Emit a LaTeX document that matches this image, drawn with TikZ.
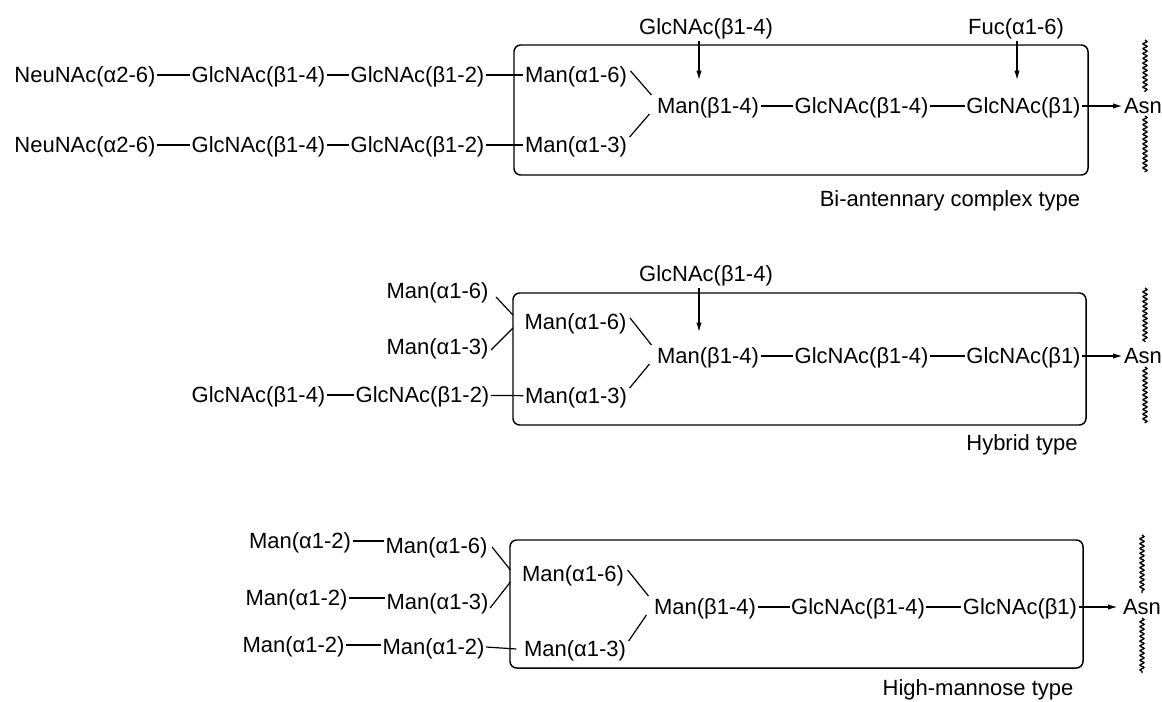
\documentclass[tikz,border=0pt]{standalone}
\usepackage{fontspec}
\setmainfont{Liberation Sans}
\usetikzlibrary{arrows.meta,calc,decorations.pathmorphing}
\begin{document}
\begin{tikzpicture}[x=0.75pt,y=-0.75pt,
  sug/.style={font=\fontsize{16.5}{19}\selectfont, inner xsep=1pt, inner ysep=0pt, text height=12.5pt, text depth=0.7pt},
  typelab/.style={font=\fontsize{16.5}{19}\selectfont, inner sep=0pt},
  bond/.style={line width=0.9pt},
  arr/.style={line width=0.9pt,-{Latex[length=7pt,width=4pt]}},
  frame/.style={line width=1.1pt, rounded corners=5pt},
  wave/.style={line width=1pt, decorate, decoration={snake, segment length=3.6pt, amplitude=1.5pt}}]
\useasboundingbox (0,0) rectangle (1162,701);

% ================= Panel 1: bi-antennary complex type
\draw[frame] (514,45) rectangle (1088,175);
\node[sug] (n1a) at (85,75) {NeuNAc(α2-6)};
\node[sug] (g1a) at (258.5,75) {GlcNAc(β1-4)};
\node[sug] (g2a) at (417.5,75) {GlcNAc(β1-2)};
\node[sug] (n1b) at (85,145) {NeuNAc(α2-6)};
\node[sug] (g1b) at (258.5,145) {GlcNAc(β1-4)};
\node[sug] (g2b) at (417.5,145) {GlcNAc(β1-2)};
\node[sug] (m6) at (576,75) {Man(α1-6)};
\node[sug] (m3) at (576,145) {Man(α1-3)};
\node[sug] (mb) at (708,106) {Man(β1-4)};
\node[sug] (gc) at (861.5,106) {GlcNAc(β1-4)};
\node[sug] (gb) at (1023.5,106) {GlcNAc(β1)};
\node[sug] (asn) at (1143,106) {Asn};
\node[sug] (lab1) at (706,27) {GlcNAc(β1-4)};
\node[sug] (lab2) at (1016,27) {Fuc(α1-6)};
\coordinate (t1) at (699,80);
\coordinate (t2) at (1017,80);
\draw[bond] (n1a) -- (g1a);
\draw[bond] (g1a) -- (g2a);
\draw[bond] (g2a) -- (m6);
\draw[bond] (n1b) -- (g1b);
\draw[bond] (g1b) -- (g2b);
\draw[bond] (g2b) -- (m3);
\draw[bond] ($(m6.east)+(2,-4)$) -- ($(mb.west)+(-4,-11)$);
\draw[bond] ($(mb.west)+(-6,8)$) -- ($(m3.east)+(1,-8)$);
\draw[bond] (mb) -- (gc);
\draw[bond] (gc) -- (gb);
\draw[arr] (gb) -- (asn);
\draw[arr, shorten <=4pt] (lab1.south -| t1) -- (t1);
\draw[arr, shorten <=4pt] (lab2.south -| t2) -- (t2);
\draw[wave] (1145,40) -- (1145,92);
\draw[wave] (1145,116) -- (1145,172);
\node[typelab] (ty1) at (950,201) {Bi-antennary complex type};

% ================= Panel 2: hybrid type
\draw[frame] (513,293) rectangle (1086,425);
\node[sug] (ho6) at (437.5,291) {Man(α1-6)};
\node[sug] (ho3) at (437.5,347) {Man(α1-3)};
\node[sug] (hg1) at (258.5,395) {GlcNAc(β1-4)};
\node[sug] (hg2) at (422.5,395) {GlcNAc(β1-2)};
\node[sug] (hm6) at (575.5,322) {Man(α1-6)};
\node[sug] (hm3) at (576,396) {Man(α1-3)};
\node[sug] (hmb) at (708,356) {Man(β1-4)};
\node[sug] (hgc) at (861.5,356) {GlcNAc(β1-4)};
\node[sug] (hgb) at (1023.5,356) {GlcNAc(β1)};
\node[sug] (hasn) at (1143,356) {Asn};
\node[sug] (hlab) at (706,274) {GlcNAc(β1-4)};
\coordinate (t3) at (699,332);
\draw[bond] ($(ho6.east)+(6,6)$) -- ($(hm6.west)+(-10,-7)$);
\draw[bond] ($(ho3.east)+(1,3)$) -- ($(hm6.west)+(-10,6)$);
\draw[bond] (hg1) -- (hg2);
\draw[bond] (hg2) -- (hm3);
\draw[bond] ($(hm6.east)+(2,-4)$) -- ($(hmb.west)+(-4,-11)$);
\draw[bond] ($(hmb.west)+(-6,8)$) -- ($(hm3.east)+(1,-8)$);
\draw[bond] (hmb) -- (hgc);
\draw[bond] (hgc) -- (hgb);
\draw[arr] (hgb) -- (hasn);
\draw[arr, shorten <=4pt] (hlab.south -| t3) -- (t3);
\draw[wave] (1145,288) -- (1145,342);
\draw[wave] (1145,367) -- (1145,423);
\node[typelab] (ty2) at (1022,445) {Hybrid type};

% ================= Panel 3: high-mannose type
\draw[frame] (510,540) rectangle (1083,668);
\node[sug] (r1a) at (300,541) {Man(α1-2)};
\node[sug] (r1b) at (436.5,546) {Man(α1-6)};
\node[sug] (r2a) at (296.5,598) {Man(α1-2)};
\node[sug] (r2b) at (437.5,602) {Man(α1-3)};
\node[sug] (r3a) at (293.5,645) {Man(α1-2)};
\node[sug] (r3b) at (433.5,647) {Man(α1-2)};
\node[sug] (km6) at (573,574) {Man(α1-6)};
\node[sug] (km3) at (575,649) {Man(α1-3)};
\node[sug] (kmb) at (705,607) {Man(β1-4)};
\node[sug] (kgc) at (858,607) {GlcNAc(β1-4)};
\node[sug] (kgb) at (1020,607) {GlcNAc(β1)};
\node[sug] (kasn) at (1142,607) {Asn};
\draw[bond] (r1a.east) -- (r1b.west |- r1a.east);
\draw[bond] (r2a.east) -- (r2b.west |- r2a.east);
\draw[bond] (r3a.east) -- (r3b.west |- r3a.east);
\draw[bond] (r3b.east) -- ($(km3.west)+(-6,0)$);
\draw[bond] ($(r1b.east)+(3,1)$) -- ($(km6.west)+(-10,-4)$);
\draw[bond] ($(r2b.east)+(0,6)$) -- ($(km6.west)+(-10,8)$);
\draw[bond] ($(km6.east)+(2,-4)$) -- ($(kmb.west)+(-4,-11)$);
\draw[bond] ($(kmb.west)+(-6,8)$) -- ($(km3.east)+(1,-8)$);
\draw[bond] (kmb) -- (kgc);
\draw[bond] (kgc) -- (kgb);
\draw[arr, shorten >=3pt] (kgb) -- (kasn);
\draw[wave] (1142,535) -- (1142,593);
\draw[wave] (1142,618) -- (1142,673);
\node[typelab] (ty3) at (978,690) {High-mannose type};
\end{tikzpicture}
\end{document}
